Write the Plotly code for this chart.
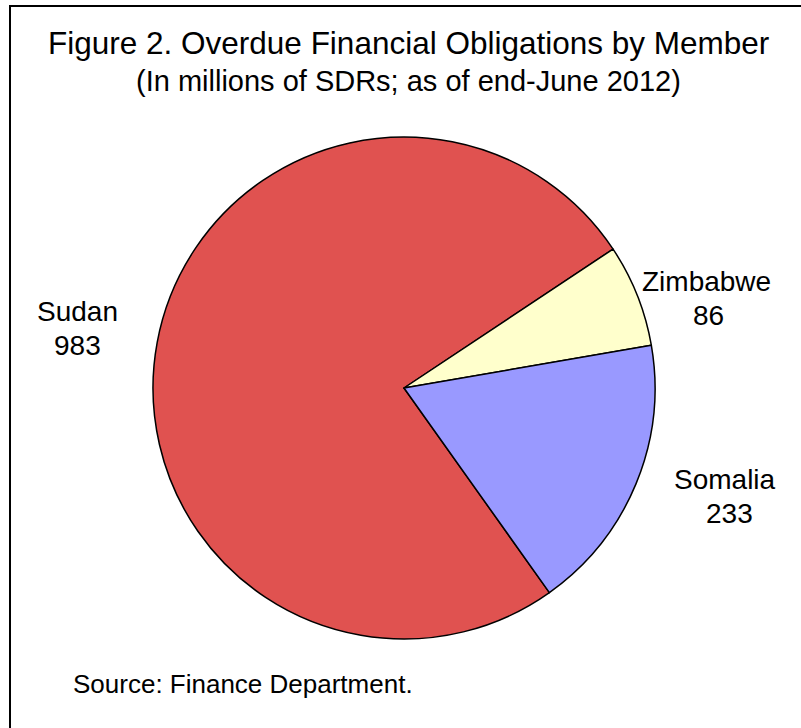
import plotly.graph_objects as go

countries = ["Sudan", "Zimbabwe", "Somalia"]
amounts = [983, 86, 233]
colors = ["#E05250", "#FFFFCC", "#9999FF"]

title_text = "Figure 2. Overdue Financial Obligations by Member"
subtitle_text = "(In millions of SDRs; as of end-June 2012)"
source_text = "Source: Finance Department."

W, H = 801, 728
# label centre positions in pixels (name line, value line)
label_pos = {
    "Sudan": ((77, 311), (77, 345)),
    "Zimbabwe": ((706, 281), (708, 315)),
    "Somalia": ((725, 479), (729, 513)),
}

cx, cy, r = 404, 388, 251

fig = go.Figure(
    go.Pie(
        labels=countries,
        values=amounts,
        sort=False,
        direction="clockwise",
        rotation=144.6,
        textinfo="none",
        hoverinfo="label+value",
        marker=dict(colors=colors, line=dict(color="black", width=1.5)),
        domain=dict(x=[(cx - r) / W, (cx + r) / W],
                    y=[(H - cy - r) / H, (H - cy + r) / H]),
        showlegend=False,
    )
)

font_family = "Liberation Sans, Arial, sans-serif"

def px(x, y):
    return x / W, 1 - y / H

annotations = []
tx, ty = px(408, 43)
annotations.append(dict(text=title_text, x=tx, y=ty, xref="paper", yref="paper",
                        xanchor="center", yanchor="middle", showarrow=False,
                        font=dict(size=31.5, color="black", family=font_family)))
sx, sy = px(408, 81)
annotations.append(dict(text=subtitle_text, x=sx, y=sy, xref="paper", yref="paper",
                        xanchor="center", yanchor="middle", showarrow=False,
                        font=dict(size=29, color="black", family=font_family)))
for name, val in zip(countries, amounts):
    (nx, ny), (vx, vy) = label_pos[name]
    ax, ay = px(nx, ny)
    annotations.append(dict(text=name, x=ax, y=ay, xref="paper", yref="paper",
                            xanchor="center", yanchor="middle", showarrow=False,
                            font=dict(size=28, color="black", family=font_family)))
    bx, by = px(vx, vy)
    annotations.append(dict(text=str(val), x=bx, y=by, xref="paper", yref="paper",
                            xanchor="center", yanchor="middle", showarrow=False,
                            font=dict(size=28, color="black", family=font_family)))
ox, oy = px(71, 684)
annotations.append(dict(text=source_text, x=ox, y=oy, xref="paper", yref="paper",
                        xanchor="left", yanchor="middle", showarrow=False,
                        font=dict(size=26, color="black", family=font_family)))

fig.update_layout(
    width=W, height=H,
    margin=dict(l=0, r=0, t=0, b=0),
    paper_bgcolor="white", plot_bgcolor="white",
    annotations=annotations,
    shapes=[dict(type="rect", xref="paper", yref="paper",
                 x0=10 / W, x1=1.05, y0=-0.05, y1=1 - 6 / H,
                 line=dict(color="black", width=2), fillcolor="rgba(0,0,0,0)")],
)

fig.write_html("out.html")
